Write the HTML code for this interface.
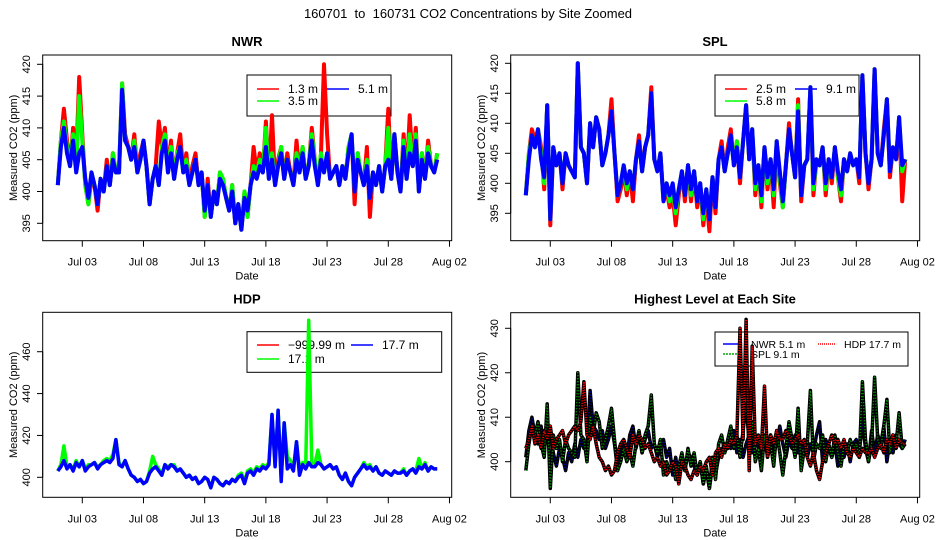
<!DOCTYPE html>
<html><head><meta charset="utf-8"><style>
html,body{margin:0;padding:0;background:#fff;}
svg{display:block;font-family:"Liberation Sans",Arial,sans-serif;}
</style></head><body>
<svg id="chart" width="936" height="540" viewBox="0 0 936 540">
<rect width="936" height="540" fill="#fff"/>
<text x="468" y="18" text-anchor="middle" font-size="13">160701&#160; to&#160; 160731 CO2 Concentrations by Site Zoomed</text>
</svg>
<script>
// ---- data (6-hourly estimates starting Jul 01 00:00) ----
const tickDays = [2,7,12,17,22,27,32];
const tickLabels = ["Jul 03","Jul 08","Jul 13","Jul 18","Jul 23","Jul 28","Aug 02"];
const nwr51 = [401,407,410,406, 404,408,403,406, 407,402,399,403, 401,398,402,400, 404,401,405,403, 403,416,408,407, 405,407,403,405, 408,404,398,402, 404,401,406,408, 403,406,402,405, 407,403,404,401, 403,405,401,403, 397,401,396,400, 398,402,401,399, 397,400,395,398, 394,399,397,401, 403,402,404,403, 407,402,405,401, 404,406,402,405, 403,401,405,403, 406,402,404,408, 404,401,405,403, 406,402,403,404, 401,404,402,406, 409,400,405,403, 401,404,399,403, 401,404,400,404, 405,402,409,403, 400,407,402,406, 404,408,400,405, 402,406,404,403, 405];
const nwr35 = [401,408,411,407, 404,409,404,415, 408,401,398,403, 401,398,402,400, 404,401,406,403, 403,417,408,407, 405,408,403,405, 408,404,398,402, 404,401,407,409, 403,407,402,406, 407,403,405,401, 403,405,401,403, 396,401,396,400, 398,403,402,399, 397,401,395,398, 394,400,396,401, 404,403,405,403, 410,402,406,401, 404,407,402,405, 403,401,406,403, 407,402,404,409, 405,401,406,403, 406,402,403,404, 401,404,402,407, 409,400,406,403, 401,405,399,403, 401,404,400,404, 410,402,409,403, 400,408,402,409, 404,409,400,406, 402,407,404,403, 406];
const nwr13 = [401,408,413,408, 404,410,405,418, 409,401,398,402, 401,397,402,400, 405,401,406,403, 403,417,409,407, 405,409,403,406, 408,404,398,402, 404,411,407,410, 403,408,402,406, 409,403,406,401, 404,406,401,403, 396,402,396,400, 398,403,402,399, 397,401,395,398, 394,400,396,401, 407,403,406,403, 411,402,412,401, 405,407,402,406, 403,401,408,403, 407,402,404,410, 405,401,406,420, 409,402,403,404, 401,404,402,407, 409,398,406,403, 401,407,396,403, 401,404,400,404, 413,402,409,403, 400,409,402,412, 404,410,400,406, 402,408,404,403, 406];
const spl91 = [398,404,408,406, 409,404,401,413, 394,406,403,405, 400,405,403,402, 401,420,406,405, 400,410,406,411, 409,403,405,408, 412,405,398,400, 403,400,402,399, 404,407,402,406, 408,415,404,402, 405,397,400,398, 400,396,399,402, 398,403,399,402, 397,400,395,399, 394,401,396,404, 406,402,405,408, 403,406,401,407, 413,404,409,400, 403,398,406,401, 404,399,407,402, 397,403,409,405, 401,412,398,403, 404,416,400,404, 403,406,400,404, 401,406,402,399, 404,402,405,403, 404,401,418,405, 400,404,419,405, 403,408,414,402, 406,404,411,403, 404];
const spl58 = [398,405,408,406, 409,405,400,413, 394,406,403,405, 400,405,403,402, 401,420,406,405, 400,410,406,411, 409,403,405,408, 412,405,398,400, 403,399,402,399, 404,407,402,406, 408,415,404,402, 405,397,400,397, 399,395,399,402, 398,403,398,402, 397,400,394,399, 394,401,396,404, 406,402,405,408, 403,407,401,407, 413,404,409,399, 403,397,406,400, 404,398,407,401, 396,403,409,405, 401,413,398,403, 404,416,399,404, 403,406,399,404, 401,406,401,398, 404,402,405,403, 404,401,418,405, 400,404,419,405, 403,408,414,402, 406,404,411,402, 404];
const spl25 = [398,405,409,407, 409,406,399,413, 393,406,403,405, 399,405,403,402, 401,420,406,405, 400,410,406,411, 409,403,405,408, 414,405,397,399, 402,398,402,397, 404,408,402,406, 408,416,404,402, 405,397,399,396, 398,393,398,402, 397,403,397,402, 396,400,393,398, 392,401,395,404, 407,402,406,409, 403,407,400,407, 413,404,409,398, 403,396,406,399, 404,396,407,400, 396,403,410,405, 401,414,397,403, 404,416,398,404, 403,406,398,404, 400,406,401,397, 404,402,405,403, 404,400,418,405, 399,404,419,405, 403,409,414,401, 406,404,411,397, 404];
const hdp177 = [403,405,408,404, 406,403,407,405, 408,403,405,406, 407,404,406,407, 408,407,409,418, 406,405,408,404, 401,400,398,399, 397,398,402,404, 405,403,401,406, 404,406,405,403, 404,402,400,401, 399,400,397,398, 400,399,395,400, 399,397,396,398, 397,399,398,400, 401,397,402,403, 401,404,403,405, 404,406,430,405, 432,398,426,404, 406,403,417,401, 406,404,407,405, 405,407,406,404, 405,406,404,405, 401,399,402,398, 396,400,402,404, 406,404,405,403, 405,402,401,403, 402,401,403,402, 402,403,401,403, 404,402,405,404, 406,403,405,404, 404];
const hdp171 = [403,406,415,405, 406,404,408,405, 408,404,406,406, 407,405,406,408, 409,408,411,418, 407,405,408,404, 401,400,398,399, 397,398,403,410, 406,404,401,406, 405,406,406,403, 404,402,400,401, 399,400,397,398, 400,399,395,400, 399,397,396,398, 397,399,398,401, 402,398,403,404, 402,405,404,406, 405,407,430,406, 432,400,426,410, 408,404,417,404, 407,405,475,406, 406,413,406,404, 405,406,404,405, 401,399,402,398, 396,400,402,404, 407,405,406,403, 405,402,401,403, 402,401,403,402, 402,404,401,403, 404,403,409,404, 407,403,405,404, 404];

const svg = document.getElementById('chart');
const NS = 'http://www.w3.org/2000/svg';
function mk(tag, attrs, parent){const e=document.createElementNS(NS,tag);for(const k in attrs)e.setAttribute(k,attrs[k]);(parent||svg).appendChild(e);return e;}

const panels = [
 {name:'nwr', title:'NWR', ox:0, top:55, bot:240.7, yv:420, yp:64.3, ppu:6.36, ticks:[395,400,405,410,415,420]},
 {name:'spl', title:'SPL', ox:468, top:55, bot:240.7, yv:420, yp:63.3, ppu:6.0, ticks:[395,400,405,410,415,420]},
 {name:'hdp', title:'HDP', ox:0, top:312.3, bot:497.3, yv:400, yp:477.3, ppu:2.093, ticks:[400,420,440,460]},
 {name:'highest', title:'Highest Level at Each Site', ox:468, top:312.7, bot:497.3, yv:400, yp:461.7, ppu:4.447, ticks:[400,410,420,430]}
];
function xs(p,d){return p.ox+57.8+d*12.24;}
function ys(p,v){return p.yp-(v-p.yv)*p.ppu;}

panels.forEach((p,pi)=>{
  const g=mk('g',{});
  
  
  const cid='clip'+pi;
  const cp=mk('clipPath',{id:cid},g);
  mk('rect',{x:p.ox+42.7,y:p.top,width:409,height:p.bot-p.top},cp);
  const t=mk('text',{x:p.ox+247,y:p.top-9,'text-anchor':'middle','font-size':13,'font-weight':'bold'},g);
  t.textContent=p.title;
  
  
  p.ticks.forEach(v=>{
    const y=ys(p,v);
    mk('line',{x1:p.ox+37,x2:p.ox+42.7,y1:y,y2:y,stroke:'#000'},g);
    const l=mk('text',{x:0,y:0,'text-anchor':'middle','font-size':11,transform:`translate(${p.ox+30},${y}) rotate(-90)`},g);
    l.textContent=v;
    
    
  });
  mk('line',{x1:p.ox+42.7,x2:p.ox+42.7,y1:ys(p,p.ticks[0]),y2:ys(p,p.ticks[p.ticks.length-1]),stroke:'#000'},g);
  const yt=mk('text',{x:0,y:0,'text-anchor':'middle','font-size':11,transform:`translate(${p.ox+17},${(p.top+p.bot)/2}) rotate(-90)`},g);
  yt.textContent='Measured CO2 (ppm)';
  
  
  tickDays.forEach((d,i)=>{
    const x=xs(p,d);
    mk('line',{x1:x,x2:x,y1:p.bot,y2:p.bot+6,stroke:'#000'},g);
    const l=mk('text',{x:x,y:p.bot+25,'text-anchor':'middle','font-size':11},g);
    l.textContent=tickLabels[i];
    
    
  });
  const xt=mk('text',{x:p.ox+247,y:p.bot+39,'text-anchor':'middle','font-size':11},g);
  xt.textContent='Date';
  
  
  p.g=g; p.cid=cid;
});

function series(p,arr,color,name,width,dash,under){
  const pts=arr.map((v,i)=>xs(p,i*0.25).toFixed(1)+','+ys(p,v).toFixed(1)).join(' ');
  if(under){ mk('polyline',{points:pts,fill:'none',stroke:'#000','stroke-width':under,'stroke-linejoin':'round','clip-path':`url(#${p.cid})`},p.g); }
  const pl=mk('polyline',{points:pts,fill:'none',stroke:color,'stroke-width':width,'stroke-linejoin':'round','clip-path':`url(#${p.cid})`},p.g);
  if(dash) pl.setAttribute('stroke-dasharray',dash);
  
  
}
function legend(p,x,y,w,h,entries,fs){
  const lg=mk('g',{},p.g);
  
  
  mk('rect',{x:x,y:y,width:w,height:h,fill:'#fff',stroke:'#000'},lg);
  entries.forEach(e=>{
    const l=mk('line',{x1:e[0],x2:e[1],y1:e[2],y2:e[2],stroke:e[3],'stroke-width':1.5},lg);
    if(e[5]) l.setAttribute('stroke-dasharray',e[5]);
    const t=mk('text',{x:e[1]+9,y:e[2]+4,'font-size':fs},lg);
    t.textContent=e[4];
    
    
  });
}
const P=panels;
legend(P[0],247,75,144,41,[[257,279,89,'#f00','1.3 m'],[257,279,101,'#0f0','3.5 m'],[327,349,89,'#00f','   5.1 m']],12);
series(P[0],nwr13,'#f00','nwr-1.3m-line',4);
series(P[0],nwr35,'#0f0','nwr-3.5m-line',4);
series(P[0],nwr51,'#00f','nwr-5.1m-line',4);
legend(P[1],715,75,144,41,[[725,747,89,'#f00','2.5 m'],[725,747,101,'#0f0','5.8 m'],[795,817,89,'#00f','   9.1 m']],12);
series(P[1],spl25,'#f00','spl-2.5m-line',4);
series(P[1],spl58,'#0f0','spl-5.8m-line',4);
series(P[1],spl91,'#00f','spl-9.1m-line',4);
legend(P[2],247,331.7,194.7,40.6,[[257,279,345,'#f00','\u2212999.99 m'],[257,279,359,'#0f0','17.1 m'],[351,373,345,'#00f','   17.7 m']],12);
series(P[2],hdp171,'#0f0','hdp-17.1m-line',3.5);
series(P[2],hdp177,'#00f','hdp-17.7m-line',3.5);
legend(P[3],715,332,193,34,[[723,742,344,'#00f','NWR   5.1 m'],[723,742,354,'#0a0','SPL   9.1 m','2,1'],[818,835,344,'#f00','HDP   17.7 m','1,1']],10.5);
series(P[3],nwr51,'#0000aa','nwr-highest-line',1.5,'1,2',3.5);
series(P[3],spl91,'#0a0','spl-highest-line',1.5,'1,2',3.5);
series(P[3],hdp177,'#f00','hdp-highest-line',2,'1,1.5',3.5);
panels.forEach(p=>{ mk('rect',{x:p.ox+42.7,y:p.top,width:409,height:p.bot-p.top,fill:'none',stroke:'#000'},p.g); });
</script>
</body></html>
